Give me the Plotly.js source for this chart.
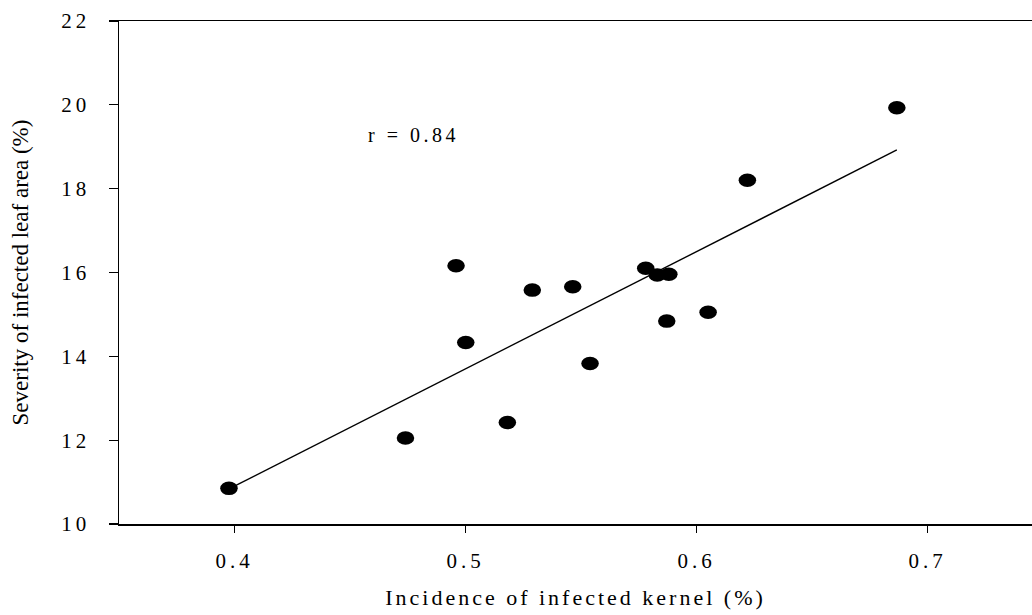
<!DOCTYPE html>
<html>
<head>
<meta charset="utf-8">
<script src="https://cdn.plot.ly/plotly-3.0.1.min.js"></script>
<style>
  html, body { margin: 0; padding: 0; background: #fff; overflow: hidden; }
  #chart { width: 1032px; height: 615px; }
  .xtick text, .ytick text { letter-spacing: 4px; }
  .g-xtitle text { letter-spacing: 3px; }
  .annotation-text { letter-spacing: 3.5px; }
</style>
</head>
<body>
<div id="chart"></div>
<script>
// Incidence of infected kernel (%) vs severity of infected leaf area (%)
const incidence = [0.3976, 0.474, 0.4959, 0.5001, 0.5181, 0.5289, 0.5464, 0.5539,
                   0.578, 0.583, 0.588, 0.5871, 0.605, 0.622, 0.6867];
const severity  = [10.85, 12.05, 16.16, 14.33, 12.42, 15.58, 15.66, 13.83,
                   16.10, 15.94, 15.96, 14.84, 15.05, 18.2, 19.93];
const xTickVals = [0.4, 0.5, 0.6, 0.7];
const yTickVals = [10, 12, 14, 16, 18, 20, 22];
const corrLabel = 'r = 0.84';

// Least-squares line through the observations
function linearFit(xs, ys) {
  const n = xs.length;
  const mx = xs.reduce((a, b) => a + b, 0) / n;
  const my = ys.reduce((a, b) => a + b, 0) / n;
  let sxy = 0, sxx = 0;
  for (let i = 0; i < n; i++) {
    sxy += (xs[i] - mx) * (ys[i] - my);
    sxx += (xs[i] - mx) * (xs[i] - mx);
  }
  const slope = sxy / sxx;
  return { slope: slope, intercept: my - slope * mx };
}
const fit = linearFit(incidence, severity);
const xMin = Math.min(...incidence), xMax = Math.max(...incidence);
const fitX = [xMin, xMax];
const fitY = fitX.map(v => fit.intercept + fit.slope * v);

const serif = 'Liberation Serif, Times New Roman, serif';

const traces = [
  {
    x: fitX, y: fitY, mode: 'lines', type: 'scatter',
    line: { color: '#000', width: 1.4 }, hoverinfo: 'skip'
  },
  {
    x: incidence, y: severity, mode: 'markers', type: 'scatter',
    marker: { color: '#000', size: 13.5, line: { width: 0 } }
  }
];

const layout = {
  width: 1032, height: 615,
  margin: { l: 119, r: 0, t: 21, b: 91 },
  paper_bgcolor: '#fff', plot_bgcolor: '#fff',
  showlegend: false,
  font: { family: serif, color: '#000', size: 21 },
  xaxis: {
    range: [0.35, 0.7452],
    tickvals: xTickVals, ticktext: xTickVals.map(v => v.toFixed(1)),
    ticks: 'outside', ticklen: 7, tickwidth: 1.3, tickcolor: '#000',
    showline: true, linecolor: '#000', linewidth: 1.5, mirror: true,
    showgrid: false, zeroline: false,
    ticklabelstandoff: 10,
    tickfont: { family: serif, size: 21, color: '#000' },
    title: { text: 'Incidence of infected kernel (%)', standoff: 18,
             font: { family: serif, size: 22, color: '#000' } }
  },
  yaxis: {
    range: [10, 22],
    tickvals: yTickVals, ticktext: yTickVals.map(String),
    ticks: 'outside', ticklen: 9, tickwidth: 1.3, tickcolor: '#000',
    showline: true, linecolor: '#000', linewidth: 1.5,
    showgrid: false, zeroline: false,
    ticklabelstandoff: 14,
    tickfont: { family: serif, size: 21, color: '#000' },
    title: { text: 'Severity of infected leaf area (%)', standoff: 26,
             font: { family: serif, size: 23, color: '#000' } }
  },
  annotations: [{
    x: 0.4569, y: 19.28, xref: 'x', yref: 'y',
    xanchor: 'left', yanchor: 'middle', showarrow: false,
    text: corrLabel, font: { family: serif, size: 20, color: '#000' }
  }]
};

Plotly.newPlot('chart', traces, layout, { staticPlot: true, displayModeBar: false })
  .then(function (gd) {
    // stretch the round markers into flat ovals
    gd.querySelectorAll('.scatterlayer .trace:last-child .point').forEach(function (p) {
      const t = p.getAttribute('transform') || '';
      if (t.indexOf('scale') === -1) p.setAttribute('transform', t + ' scale(1.3,1)');
    });
  });
</script>
</body>
</html>
